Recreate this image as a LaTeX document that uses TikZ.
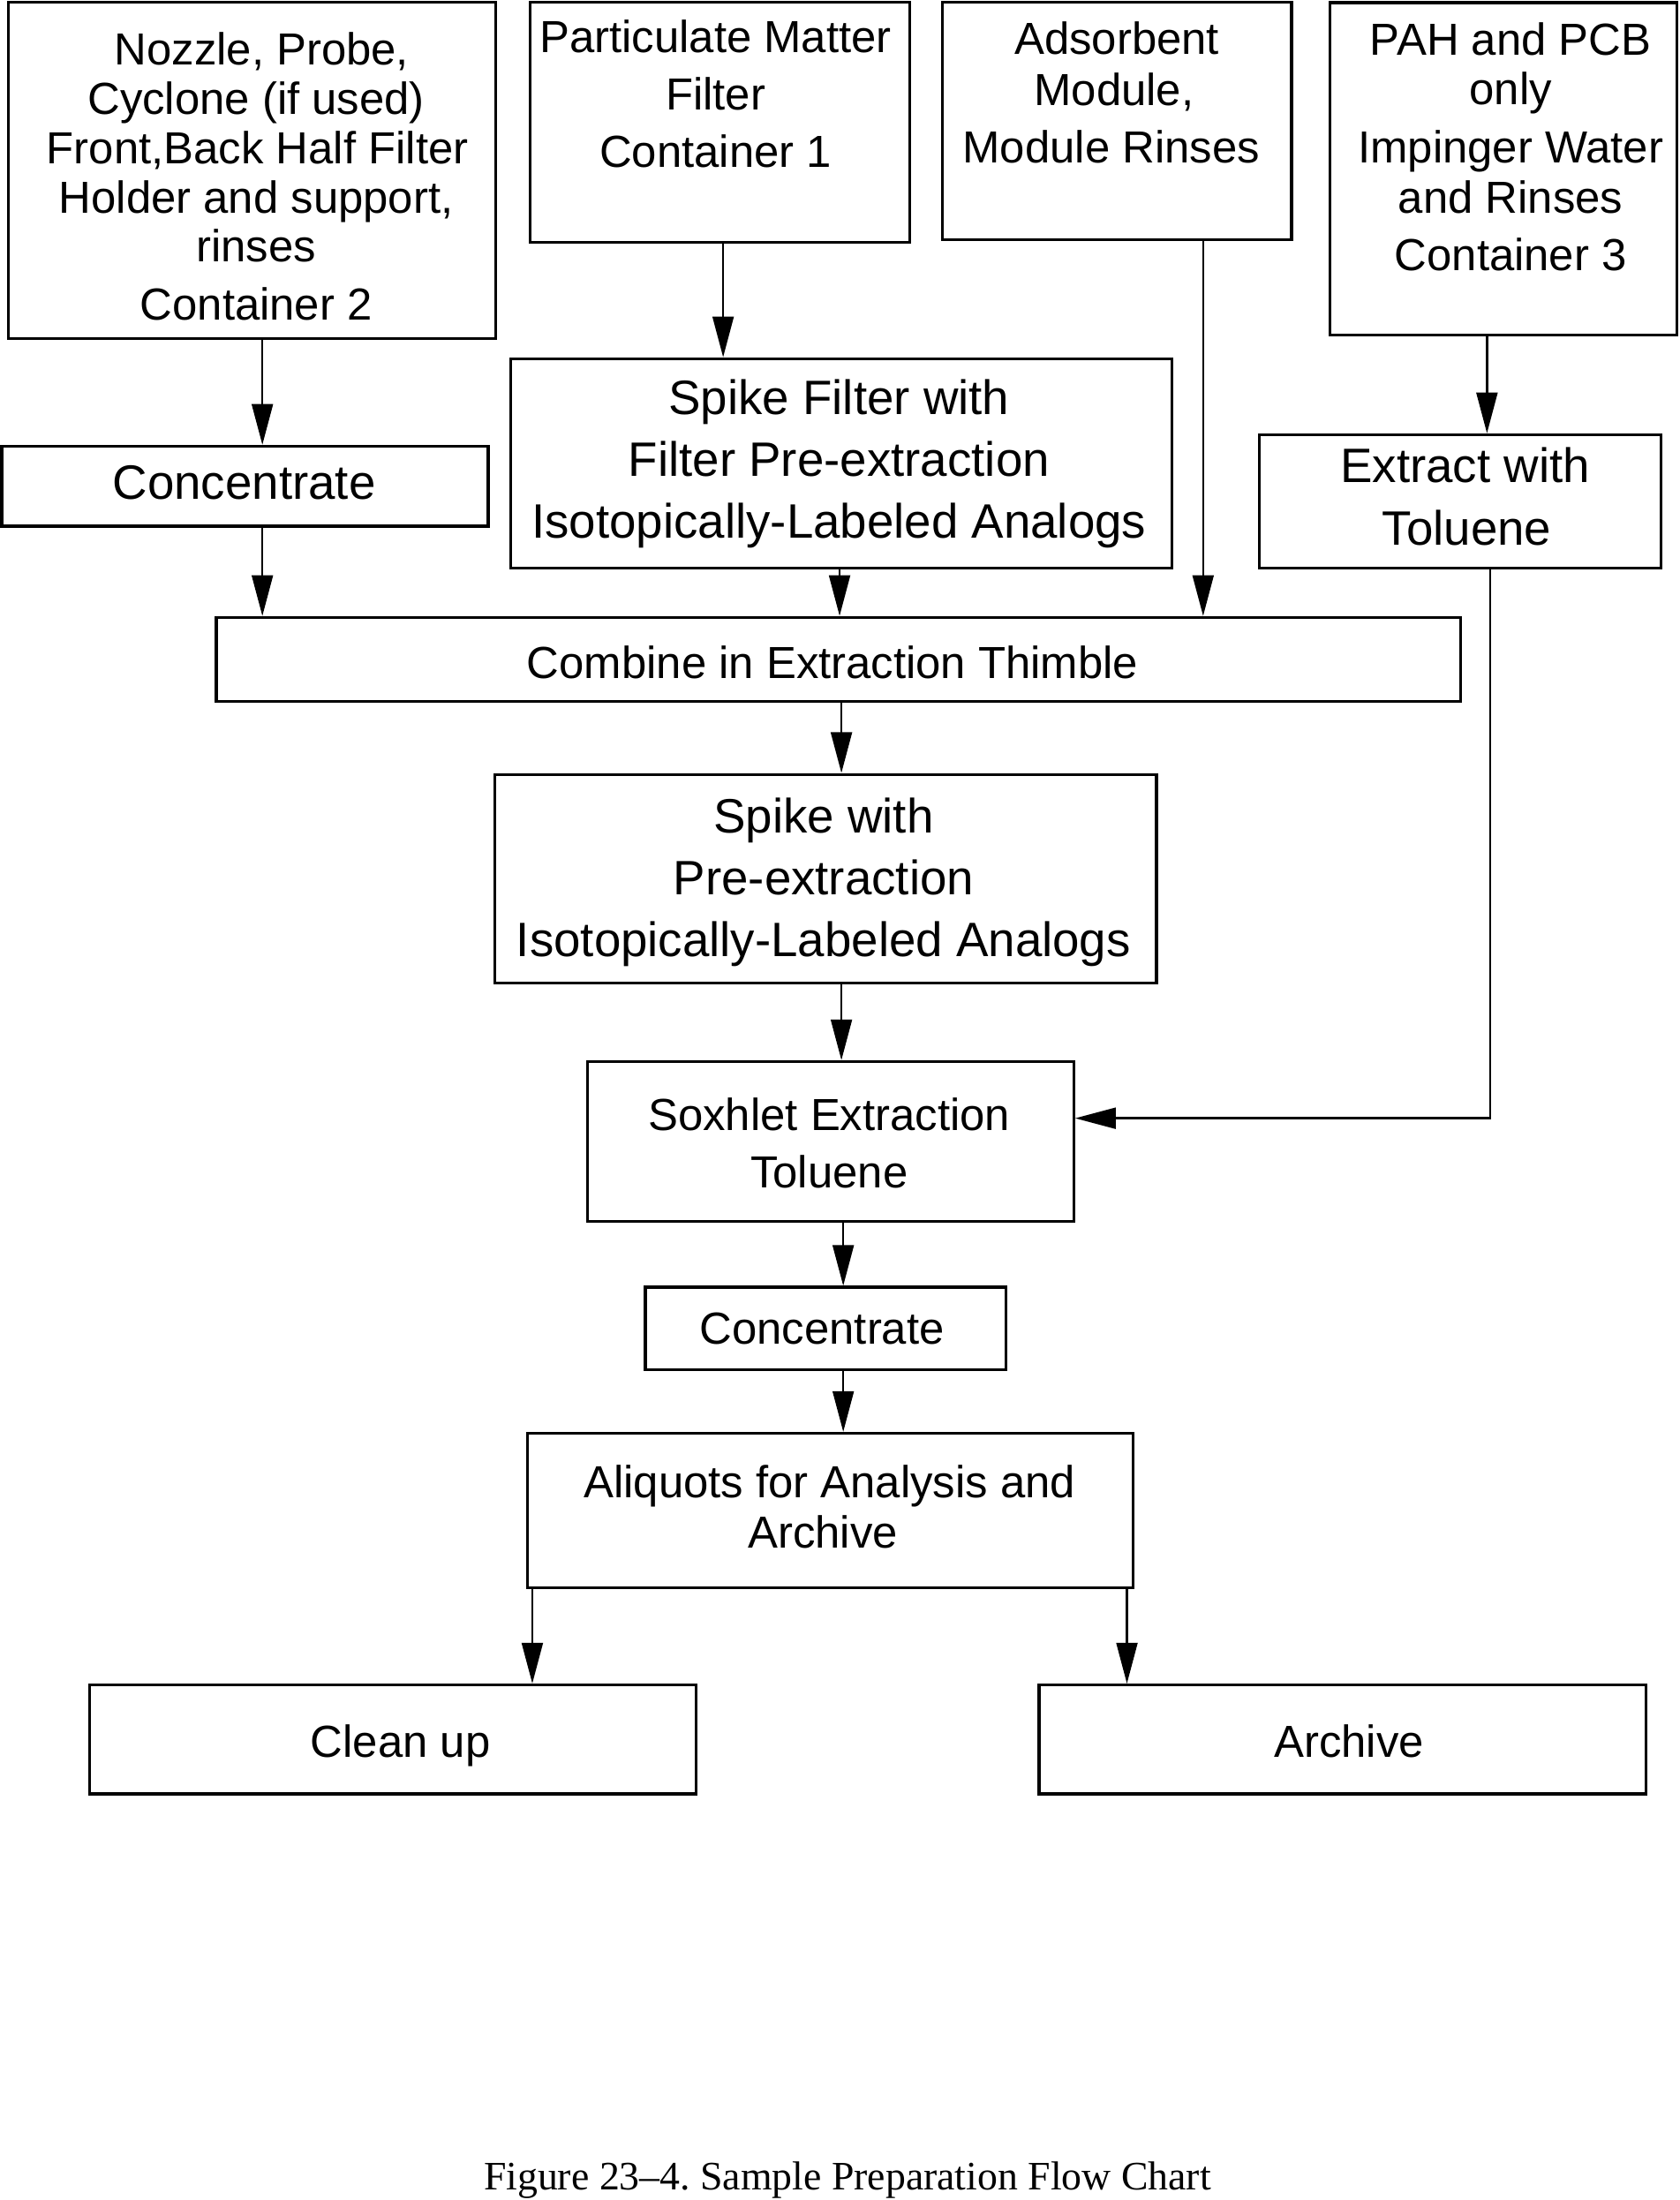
\documentclass[tikz,border=0pt]{standalone}
\usepackage{fontspec}
\setmainfont{Liberation Sans}
\newfontfamily\capfont{Liberation Serif}
\usetikzlibrary{arrows.meta}
\frenchspacing
\tikzset{
  box/.style={draw, line width=2pt, inner sep=0pt, rectangle},
  tA/.style={font=\fontsize{32}{38}\selectfont, inner sep=0pt, anchor=base},
  tB/.style={font=\fontsize{34.4}{40}\selectfont, inner sep=0pt, anchor=base},
  arr/.style={line width=1.5pt, -{Triangle[length=29pt, width=15pt]}},
  conn/.style={line width=1.5pt}
}
\begin{document}
\begin{tikzpicture}[x=1pt, y=-1pt]
\useasboundingbox (0,0) rectangle (1197,1568);
% boxes
\node[box, minimum width=347.5pt, minimum height=240pt] (c2) at (179.75,121.5) {};
\node[box, minimum width=270.5pt, minimum height=171pt] (c1) at (513.25,87) {};
\node[box, minimum width=249pt, minimum height=169.3pt] (ads) at (796,86.2) {};
\node[box, minimum width=247.2pt, minimum height=237.1pt] (pah) at (1071.4,120.4) {};
\node[box, minimum width=346.7pt, minimum height=57pt] (conc1) at (174.65,346.5) {};
\node[box, minimum width=471.4pt, minimum height=149.4pt] (spf) at (599.7,330.3) {};
\node[box, minimum width=286.1pt, minimum height=95.1pt] (ext) at (1040.55,357.35) {};
\node[box, minimum width=886.8pt, minimum height=60.1pt] (comb) at (597.6,470.05) {};
\node[box, minimum width=471.4pt, minimum height=148.7pt] (spw) at (588.6,626.25) {};
\node[box, minimum width=346.8pt, minimum height=113.8pt] (sox) at (591.9,813.5) {};
\node[box, minimum width=257.1pt, minimum height=59pt] (conc2) at (588.55,946.9) {};
\node[box, minimum width=431.6pt, minimum height=110.2pt] (ali) at (591.6,1076.6) {};
\node[box, minimum width=432.2pt, minimum height=77.7pt] (clean) at (280.1,1239.75) {};
\node[box, minimum width=432.4pt, minimum height=77.7pt] (arch) at (956.8,1239.75) {};
% texts
\node[tA] (c2a) at (186.5,46.2) {Nozzle, Probe,};
\node[tA] (c2b) at (182.6,81.7) {Cyclone (if used)};
\node[tA] (c2c) at (183.5,116.9) {Front,Back Half Filter};
\node[tA] (c2d) at (182.6,152.1) {Holder and support,};
\node[tA] (c2e) at (182.6,186.7) {rinses};
\node[tA] (c2f) at (182.6,228.1) {Container 2};
\node[tA] (c1a) at (510,37.5) {Particulate Matter};
\node[tA] (c1b) at (510,78.4) {Filter};
\node[tA] (c1c) at (510,119) {Container 1};
\node[tA] (adsa) at (796,39) {Adsorbent};
\node[tA] (adsb) at (794,75.4) {Module,};
\node[tA] (adsc) at (792,115.9) {Module Rinses};
\node[tA] (paha) at (1076.7,39.3) {PAH and PCB};
\node[tA] (pahb) at (1076.7,74.8) {only};
\node[tA] (pahc) at (1076.7,116.2) {Impinger Water};
\node[tA] (pahd) at (1076.7,151.7) {and Rinses};
\node[tA] (pahe) at (1076.7,192.9) {Container 3};
\node[tB] (conc1a) at (174,355.8) {Concentrate};
\node[tB] (spfa) at (598,295.3) {Spike Filter with};
\node[tB] (spfb) at (598,339.5) {Filter Pre-extraction};
\node[tB] (spfc) at (598,383.5) {Isotopically-Labeled Analogs};
\node[tB] (exta) at (1044.2,344) {Extract with};
\node[tB] (extb) at (1045.5,388.5) {Toluene};
\node[tA] (comba) at (593.4,483.3) {Combine in Extraction Thimble};
\node[tB] (spwa) at (587,593.5) {Spike with};
\node[tB] (spwb) at (587,637.4) {Pre-extraction};
\node[tB] (spwc) at (587,682) {Isotopically-Labeled Analogs};
\node[tA] (soxa) at (591,805.4) {Soxhlet Extraction};
\node[tA] (soxb) at (591,846.3) {Toluene};
\node[tA] (conc2a) at (585.9,957.7) {Concentrate};
\node[tA] (alia) at (591.3,1067.3) {Aliquots for Analysis and};
\node[tA] (alib) at (586.5,1103.4) {Archive};
\node[tA] (cleana) at (285.4,1252.7) {Clean up};
\node[tA] (archa) at (961.5,1252.7) {Archive};
\node[font=\capfont\fontsize{28.8}{34}\selectfont, inner sep=0pt, anchor=base] (cap) at (604,1561) {Figure 23\textendash 4. Sample Preparation Flow Chart};
% connector x positions
\coordinate (xA) at (187,0);
\coordinate (xB) at (515.4,0);
\coordinate (xC) at (598.4,0);
\coordinate (xD) at (857.5,0);
\coordinate (xE) at (1059.8,0);
\coordinate (xF) at (1062,0);
\coordinate (xG) at (599.7,0);
\coordinate (xH) at (601,0);
\coordinate (xI) at (379.4,0);
\coordinate (xJ) at (803.2,0);
\coordinate (yK) at (0,797);
\coordinate (bend) at (1062,797);
% connectors
\draw[arr] (c2.south -| xA) -- (conc1.north -| xA);
\draw[arr] (conc1.south -| xA) -- (comb.north -| xA);
\draw[arr] (c1.south -| xB) -- (spf.north -| xB);
\draw[arr] (spf.south -| xC) -- (comb.north -| xC);
\draw[arr] (ads.south -| xD) -- (comb.north -| xD);
\draw[arr] (pah.south -| xE) -- (ext.north -| xE);
\draw[arr] (ext.south -| xF) -- (bend) -- (sox.east |- yK);
\draw[arr] (comb.south -| xG) -- (spw.north -| xG);
\draw[arr] (spw.south -| xG) -- (sox.north -| xG);
\draw[arr] (sox.south -| xH) -- (conc2.north -| xH);
\draw[arr] (conc2.south -| xH) -- (ali.north -| xH);
\draw[arr] (ali.south -| xI) -- (clean.north -| xI);
\draw[arr] (ali.south -| xJ) -- (arch.north -| xJ);
\end{tikzpicture}
\end{document}
